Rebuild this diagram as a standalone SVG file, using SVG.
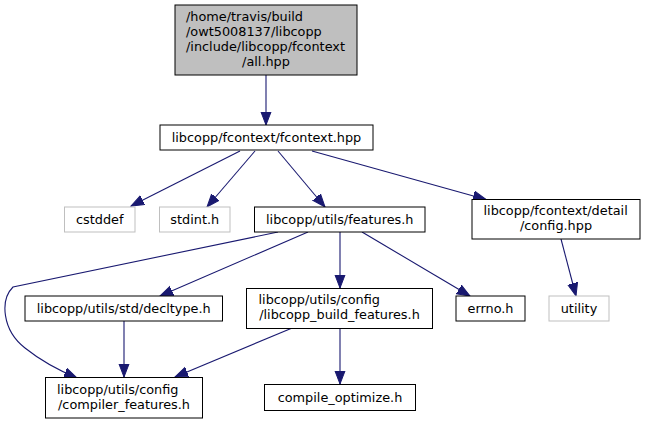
<svg xmlns="http://www.w3.org/2000/svg" width="645" height="424" viewBox="0 0 645 424">
<defs>
<marker id="arr" markerUnits="userSpaceOnUse" markerWidth="14" markerHeight="12" refX="13" refY="5.5" orient="auto">
<path d="M0,0.5 L13,5.5 L0,10.5 Z" fill="#191970" stroke="#191970" stroke-width="1"/>
</marker>
</defs>
<style>
text{font-family:"DejaVu Sans","Liberation Sans",sans-serif;font-size:12.85px;fill:#000}
.m{text-anchor:middle}
.s{text-anchor:start}
.n{fill:#fff;stroke:#000;stroke-width:1}
.g{fill:#fff;stroke:#bfbfbf;stroke-width:1}
.t{fill:#bfbfbf;stroke:#000;stroke-width:1}
.e{fill:none;stroke:#191970;stroke-width:1.1;marker-end:url(#arr)}
</style>
<rect width="645" height="424" fill="#fff"/>
<g id="edges">
<path class="e" d="M266,75 L266,125"/>
<path class="e" d="M240,151 L131,206"/>
<path class="e" d="M255,151 L207,207"/>
<path class="e" d="M278,151 L325,207"/>
<path class="e" d="M312,151 L486,199.5"/>
<path class="e" d="M278,232 L13,287 C0,300 2,330 25,348 C40,360 58,370 77,378"/>
<path class="e" d="M308,232 L160,296"/>
<path class="e" d="M340,232 L340,288"/>
<path class="e" d="M362,232 L470,296"/>
<path class="e" d="M561,239 L576,296"/>
<path class="e" d="M124,321 L124,377"/>
<path class="e" d="M291,328.5 L175,377"/>
<path class="e" d="M340,328.5 L340,384"/>
</g>
<g id="node_all">
<rect class="t" x="175" y="5" width="182" height="70"/>
<text class="s" x="186" y="20.5">/home/travis/build</text>
<text class="s" x="186" y="35.5">/owt5008137/libcopp</text>
<text class="s" x="186" y="50.5">/include/libcopp/fcontext</text>
<text class="m" x="266" y="65.5">/all.hpp</text>
</g>
<g id="node_fcontext">
<rect class="n" x="160" y="125" width="213" height="25"/>
<text class="m" x="266.5" y="142">libcopp/fcontext/fcontext.hpp</text>
</g>
<g id="node_cstddef">
<rect class="g" x="64.5" y="207" width="70.5" height="25"/>
<text class="m" x="99.75" y="224">cstddef</text>
</g>
<g id="node_stdint">
<rect class="g" x="159.5" y="207" width="70.5" height="25"/>
<text class="m" x="194.75" y="224">stdint.h</text>
</g>
<g id="node_features">
<rect class="n" x="254.5" y="207" width="170.5" height="25"/>
<text class="m" x="339.75" y="224">libcopp/utils/features.h</text>
</g>
<g id="node_detail_config">
<rect class="n" x="472" y="199.5" width="168" height="39.5"/>
<text class="s" x="483.5" y="215">libcopp/fcontext/detail</text>
<text class="m" x="556" y="230">/config.hpp</text>
</g>
<g id="node_utility">
<rect class="g" x="549" y="296" width="60" height="25"/>
<text class="m" x="579" y="313">utility</text>
</g>
<g id="node_decltype">
<rect class="n" x="25" y="296" width="197.5" height="25"/>
<text class="m" x="123.75" y="313">libcopp/utils/std/decltype.h</text>
</g>
<g id="node_build_features">
<rect class="n" x="246.5" y="288.5" width="186" height="40"/>
<text class="s" x="258.5" y="304">libcopp/utils/config</text>
<text class="m" x="339.5" y="319">/libcopp_build_features.h</text>
</g>
<g id="node_errno">
<rect class="n" x="456" y="296" width="69" height="25"/>
<text class="m" x="490.5" y="313">errno.h</text>
</g>
<g id="node_compiler_features">
<rect class="n" x="45.5" y="377.5" width="157" height="40.5"/>
<text class="s" x="57" y="393.5">libcopp/utils/config</text>
<text class="m" x="124" y="408.5">/compiler_features.h</text>
</g>
<g id="node_compile_optimize">
<rect class="n" x="264.5" y="384.5" width="151" height="26"/>
<text class="m" x="340" y="401.5">compile_optimize.h</text>
</g>
</svg>
